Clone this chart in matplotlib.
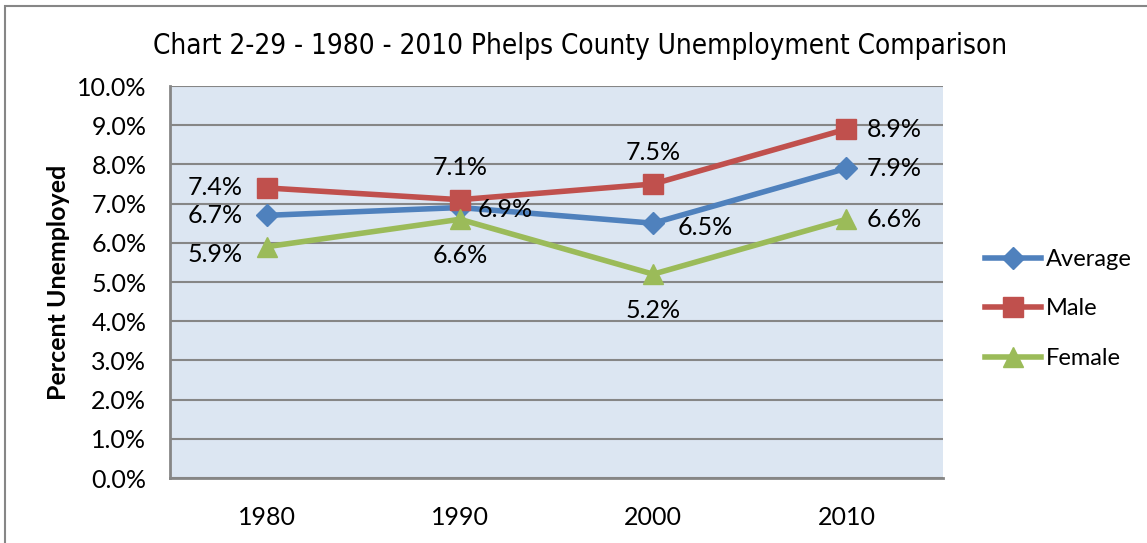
import matplotlib
matplotlib.use("Agg")
import matplotlib.pyplot as plt
from matplotlib.patches import Rectangle

# === Data ===
years = ["1980", "1990", "2000", "2010"]
average = [6.7, 6.9, 6.5, 7.9]
male = [7.4, 7.1, 7.5, 8.9]
female = [5.9, 6.6, 5.2, 6.6]
y_ticks = [0, 1, 2, 3, 4, 5, 6, 7, 8, 9, 10]

BLUE = "#4F81BD"
RED = "#C0504D"
GREEN = "#9BBB59"
BODY = ["Lato", "DejaVu Sans"]
FS = 18

fig = plt.figure(figsize=(11.47, 5.43), dpi=100)
ax = fig.add_axes([0.1482, 0.1197, 0.674, 0.7219])
ax.set_facecolor("#DCE6F2")

x = range(len(years))
ax.plot(x, average, color=BLUE, lw=4, marker="D", ms=11, label="Average", zorder=3)
ax.plot(x, male, color=RED, lw=4, marker="s", ms=14, label="Male", zorder=3)
ax.plot(x, female, color=GREEN, lw=4, marker="^", ms=15, label="Female", zorder=3)

# data labels: offset in px and alignment per point
offsets = {
    "avg": [(-24, 0, "right"), (18, -2, "left"), (24, -4, "left"), (20, 0, "left")],
    "male": [(-24, 0, "right"), (0, 32, "center"), (0, 32, "center"), (20, 0, "left")],
    "fem": [(-24, -8, "right"), (0, -36, "center"), (0, -36, "center"), (20, 0, "left")],
}
for key, vals in (("avg", average), ("male", male), ("fem", female)):
    for i, v in enumerate(vals):
        dx, dy, ha = offsets[key][i]
        ax.annotate(f"{v:.1f}%", (i, v), xytext=(dx, dy), textcoords="offset pixels",
                    ha=ha, va="center", fontsize=FS, family=BODY, zorder=4)

ax.set_xlim(-0.5, 3.5)
ax.set_ylim(0, 10)
ax.set_xticks(list(x))
ax.set_xticklabels(years, family=BODY, fontsize=FS)
ax.set_yticks(y_ticks)
ax.set_yticklabels([f"{t:.1f}%" for t in y_ticks], family=BODY, fontsize=FS)
ax.tick_params(axis="x", length=0, pad=20)
ax.tick_params(axis="y", length=0, pad=17)
ax.yaxis.grid(True, color="#868686", lw=1.5)
ax.set_axisbelow(True)
for s in ("top", "right"):
    ax.spines[s].set_visible(False)
for s in ("left", "bottom"):
    ax.spines[s].set_color("#868686")
    ax.spines[s].set_linewidth(2)

ax.set_ylabel("Percent Unemployed", family=BODY, fontsize=FS, fontweight="bold", labelpad=5)

fig.text(0.506, 0.915, "Chart 2-29 - 1980 - 2010 Phelps County Unemployment Comparison",
         ha="center", va="center", fontsize=20, family="DejaVu Sans",
         fontstretch="condensed")

fig.legend(handles=ax.get_lines(), loc="center left", bbox_to_anchor=(0.84, 0.431),
           frameon=False, prop={"family": BODY, "size": 17}, handlelength=2.4,
           handletextpad=0.2, labelspacing=1.2)

# outer chart border
fig.patches.append(Rectangle((0.0045, -0.05), 1.2, 1.039, transform=fig.transFigure,
                             fill=False, edgecolor="#868686", lw=1.5))

fig.savefig("out.png", dpi=100)
